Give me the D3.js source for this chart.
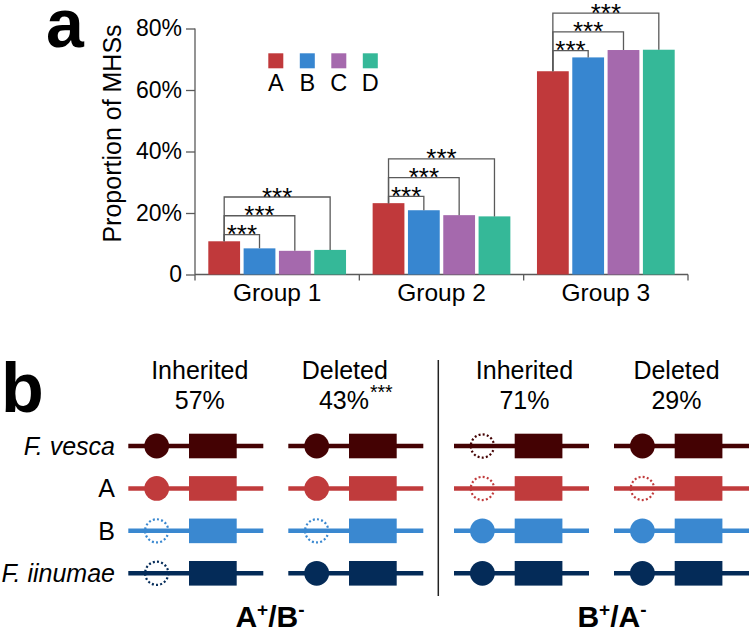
<!DOCTYPE html>
<html>
<head>
<meta charset="utf-8">
<script src="https://cdn.jsdelivr.net/npm/d3@7"></script>
<style>
  body { margin: 0; background: #fff; }
  svg { font-family: "Liberation Sans", Arial, sans-serif; }
</style>
</head>
<body>
<svg id="chart" width="750" height="632"></svg>
<script>
// panel a
const groups = ["Group 1", "Group 2", "Group 3"];
const series = ["A", "B", "C", "D"];
const values = {
  A: [10.8, 23.2, 66.1],
  B: [8.5, 20.9, 70.6],
  C: [7.7, 19.3, 73.0],
  D: [8.0, 18.9, 73.1]
};
const yTicks = [0, 20, 40, 60, 80];
const comparisons = [["A", "B"], ["A", "C"], ["A", "D"]];
const sigLabel = "***";

// panel b
const rowLabels = ["F. vesca", "A", "B", "F. iinumae"];
const italicRows = ["F. vesca", "F. iinumae"];
const sides = [["A", "+", "B", "-"], ["B", "+", "A", "-"]];
const columnSide = [0, 0, 1, 1];
const columnHeads = ["Inherited", "Deleted", "Inherited", "Deleted"];
const columnPcts = ["57%", "43%", "71%", "29%"];
const columnSig = ["", "***", "", ""];
// 1 = site present (filled circle), 0 = absent (dotted circle); per column, per row
const presence = [
  [1, 1, 0, 0],
  [1, 1, 0, 1],
  [0, 0, 1, 1],
  [1, 0, 1, 1]
];

const barColors = { A: "#c0393b", B: "#3786d0", C: "#a569ad", D: "#35b898" };
const rowColors = ["#440203", "#c03b3c", "#3a88d0", "#042b58"];
const axisColor = "#5a5a5a";

const svg = d3.select("#chart");

// ---------- panel a ----------
const x = d3.scaleBand().domain(groups).range([195, 688]);
const xs = d3.scaleBand().domain(series).range([13.3, x.bandwidth() - 13.3]).paddingInner(0.1);
const y = d3.scaleLinear().domain([0, 80]).range([274.5, 28.5]);

svg.append("text").attr("x", 46).attr("y", 47)
  .attr("font-size", 68).attr("font-weight", "bold").text("a");

// y axis
const yAxis = svg.append("g").attr("transform", "translate(195,0)")
  .call(d3.axisLeft(y).tickValues(yTicks).tickSize(9).tickPadding(4)
    .tickFormat(d => d === 0 ? "0" : d + "%"));
yAxis.selectAll("path, line").attr("stroke", axisColor).attr("stroke-width", 1.3);
yAxis.select(".domain").attr("d", `M0,${y(80)}V${y(0)}`);
yAxis.selectAll("text").attr("font-size", 23).attr("fill", "#000")
  .attr("font-family", "Liberation Sans, Arial, sans-serif");

svg.append("text")
  .attr("transform", "translate(121,133.5) rotate(-90)")
  .attr("text-anchor", "middle").attr("font-size", 25)
  .text("Proportion of MHSs");

// x axis
const xAxis = svg.append("g");
xAxis.append("line").attr("x1", x.range()[0]).attr("x2", x.range()[1])
  .attr("y1", y(0)).attr("y2", y(0)).attr("stroke", axisColor).attr("stroke-width", 1.3);
const bounds = groups.map(g => x(g)).concat([x.range()[1]]);
xAxis.selectAll(".bt").data(bounds).join("line").attr("class", "bt")
  .attr("x1", d => d).attr("x2", d => d).attr("y1", y(0)).attr("y2", y(0) + 6)
  .attr("stroke", axisColor).attr("stroke-width", 1.3);
xAxis.selectAll(".gl").data(groups).join("text").attr("class", "gl")
  .attr("x", d => x(d) + x.bandwidth() / 2).attr("y", 301)
  .attr("text-anchor", "middle").attr("font-size", 24.5).text(d => d);

// bars
const bars = [];
groups.forEach((g, gi) => series.forEach(s => bars.push({ g, s, v: values[s][gi] })));
svg.append("g").selectAll("rect").data(bars).join("rect")
  .attr("x", d => x(d.g) + xs(d.s))
  .attr("width", xs.bandwidth())
  .attr("y", d => y(d.v))
  .attr("height", d => y(0) - y(d.v))
  .attr("fill", d => barColors[d.s]);

// significance brackets
const brG = svg.append("g");
groups.forEach((g, gi) => {
  const cx = s => x(g) + xs(s) + xs.bandwidth() / 2;
  const base = Math.max(values.A[gi], values.B[gi]) + 2.2;
  comparisons.forEach(([a, b], k) => {
    const lvl = y(base + k * 6.1);
    brG.append("path")
      .attr("d", `M${cx(a)},${y(values[a][gi])}V${lvl}H${cx(b)}V${y(values[b][gi])}`)
      .attr("fill", "none").attr("stroke", axisColor).attr("stroke-width", 1.3);
    brG.append("text").attr("x", (cx(a) + cx(b)) / 2).attr("y", lvl + 8.5)
      .attr("text-anchor", "middle").attr("font-size", 26).text(sigLabel);
  });
});

// legend
const lg = svg.append("g");
series.forEach((s, i) => {
  const lx = 268.3 + i * 31.5;
  lg.append("rect").attr("x", lx).attr("y", 53.3).attr("width", 15).attr("height", 15)
    .attr("fill", barColors[s]);
  lg.append("text").attr("x", lx + 7.5).attr("y", 90.7).attr("text-anchor", "middle")
    .attr("font-size", 23.5).text(s);
});

// ---------- panel b ----------
svg.append("text").attr("x", 1).attr("y", 411.5)
  .attr("font-size", 70).attr("font-weight", "bold").text("b");

const rowY = d3.scalePoint().domain(rowLabels).range([446, 573.3]);
const sideX = d3.scalePoint().domain(d3.range(sides.length)).range([128.3, 454]);
const innerX = d3.scalePoint().domain([0, 1]).range([0, 160]);
const colX = i => sideX(columnSide[i]) + innerX(i % 2);
const colW = 135;
const headDx = [4, 0, 3, -5];

svg.selectAll(".rl").data(rowLabels).join("text").attr("class", "rl")
  .attr("x", 115).attr("y", d => rowY(d) + 9).attr("text-anchor", "end")
  .attr("font-size", 25).attr("font-style", d => italicRows.includes(d) ? "italic" : "normal")
  .text(d => d);

columnHeads.forEach((h, ci) => {
  const c = colX(ci) + colW / 2 + headDx[ci];
  const hx = columnSig[ci] ? c - 11 : c;
  svg.append("text").attr("x", hx).attr("y", 379).attr("text-anchor", "middle")
    .attr("font-size", 25).text(h);
  const pt = svg.append("text").attr("x", c).attr("y", 408.5).attr("text-anchor", "middle")
    .attr("font-size", 25);
  pt.append("tspan").text(columnPcts[ci]);
  if (columnSig[ci]) {
    pt.append("tspan").attr("font-size", 19.5).attr("dy", -10).attr("dx", 1).text(columnSig[ci]);
  }

  rowLabels.forEach((r, ri) => {
    const cy = rowY(r), x0 = colX(ci), col = rowColors[ri];
    svg.append("line").attr("x1", x0).attr("x2", x0 + colW).attr("y1", cy).attr("y2", cy)
      .attr("stroke", col).attr("stroke-width", 4.5);
    svg.append("rect").attr("x", x0 + 60.7).attr("y", cy - 12.3)
      .attr("width", 47.7).attr("height", 24.6).attr("fill", col);
    const circ = svg.append("circle").attr("cx", x0 + 28.4).attr("cy", cy).attr("r", 12.4);
    if (presence[ci][ri]) {
      circ.attr("fill", col);
    } else {
      circ.attr("r", 11.6).attr("fill", "none").attr("stroke", col)
        .attr("stroke-width", 2.2).attr("stroke-dasharray", "2,2.2");
    }
  });
});

svg.append("line").attr("x1", 438.3).attr("x2", 438.3).attr("y1", 360).attr("y2", 596)
  .attr("stroke", "#222").attr("stroke-width", 1.5);

const sideLabelX = [270, 612];
sides.forEach(([p, ps, q, qs], si) => {
  const t = svg.append("text").attr("x", sideLabelX[si]).attr("y", 627)
    .attr("text-anchor", "middle").attr("font-size", 30).attr("font-weight", "bold");
  t.append("tspan").text(p);
  t.append("tspan").attr("font-size", 19).attr("dy", -11).text(ps);
  t.append("tspan").attr("dy", 11).text("/" + q);
  t.append("tspan").attr("font-size", 19).attr("dy", -11).text(qs);
});
</script>
</body>
</html>
